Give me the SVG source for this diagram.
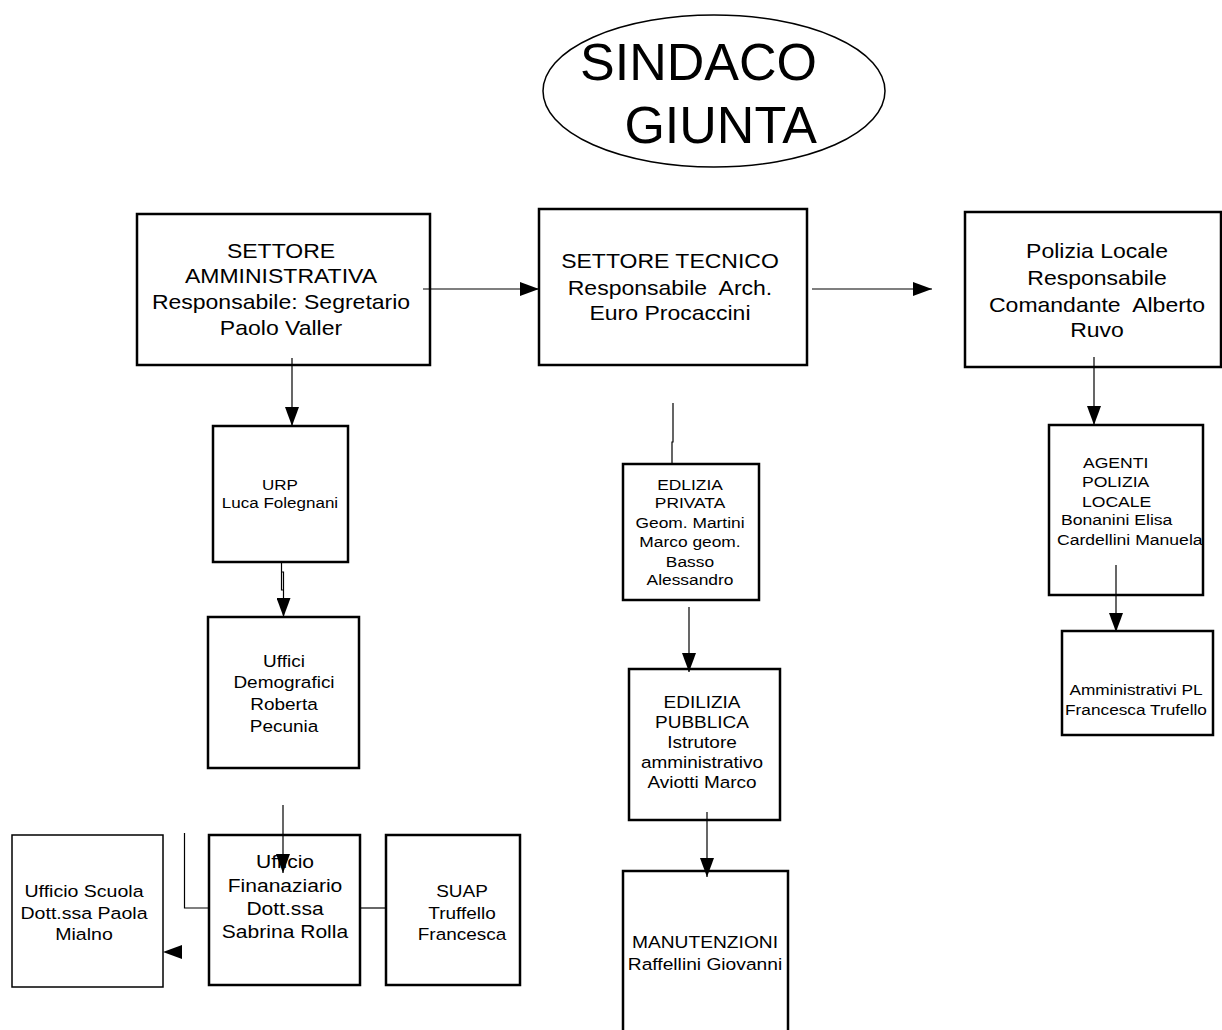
<svg xmlns="http://www.w3.org/2000/svg" width="1222" height="1030" viewBox="0 0 1222 1030">
<style>
.box{fill:#fff;stroke:#000;stroke-width:2.5}
.thin{fill:#fff;stroke:#000;stroke-width:1.5}
.t{font-family:"Liberation Sans",Arial,sans-serif;fill:#000;white-space:pre}
.c{stroke:#000;stroke-width:1.2;fill:none}
.ah{fill:#000;stroke:none}
</style>
<defs>
<marker id="arr" markerUnits="userSpaceOnUse" markerWidth="19" markerHeight="14" refX="19" refY="7" orient="auto">
<path d="M0,0 L19,7 L0,14 z" fill="#000"/>
</marker>
</defs>
<rect width="1222" height="1030" fill="#fff"/>

<g id="sindaco">
<ellipse cx="714" cy="91" rx="171" ry="76" fill="#fff" stroke="#000" stroke-width="1.5"/>
<text class="t" font-size="52" text-anchor="end"><tspan x="817" y="80">SINDACO</tspan><tspan x="817" y="143">GIUNTA</tspan></text>
</g>

<g id="settore-amministrativa">
<rect class="box" x="137" y="214" width="293" height="151"/>
<text class="t" font-size="20" text-anchor="middle" transform="translate(281,0) scale(1.15,1)"><tspan x="0" y="258">SETTORE</tspan><tspan x="0" y="283">AMMINISTRATIVA</tspan><tspan x="0" y="309">Responsabile: Segretario</tspan><tspan x="0" y="335">Paolo Valler</tspan></text>
</g>

<g id="settore-tecnico">
<rect class="box" x="539" y="209" width="268" height="156"/>
<text class="t" font-size="20" text-anchor="middle" transform="translate(670,0) scale(1.15,1)" xml:space="preserve"><tspan x="0" y="268">SETTORE TECNICO</tspan><tspan x="0" y="295">Responsabile  Arch.</tspan><tspan x="0" y="320">Euro Procaccini</tspan></text>
</g>

<g id="polizia-locale">
<rect class="box" x="965" y="212" width="256" height="155"/>
<text class="t" font-size="20" text-anchor="middle" transform="translate(1097,0) scale(1.15,1)" xml:space="preserve"><tspan x="0" y="258">Polizia Locale</tspan><tspan x="0" y="285">Responsabile</tspan><tspan x="0" y="312">Comandante  Alberto</tspan><tspan x="0" y="337">Ruvo</tspan></text>
</g>

<g id="urp">
<rect class="box" x="213" y="426" width="135" height="136"/>
<text class="t" font-size="14.8" text-anchor="middle" transform="translate(280,0) scale(1.15,1)"><tspan x="0" y="490">URP</tspan><tspan x="0" y="508">Luca Folegnani</tspan></text>
</g>

<g id="uffici-demografici">
<rect class="box" x="208" y="617" width="151" height="151"/>
<text class="t" font-size="16.5" text-anchor="middle" transform="translate(284,0) scale(1.15,1)"><tspan x="0" y="667">Uffici</tspan><tspan x="0" y="688">Demografici</tspan><tspan x="0" y="710">Roberta</tspan><tspan x="0" y="732">Pecunia</tspan></text>
</g>

<g id="ufficio-scuola">
<rect class="thin" x="12" y="835" width="151" height="152"/>
<text class="t" font-size="17" text-anchor="middle" transform="translate(84,0) scale(1.15,1)"><tspan x="0" y="897">Ufficio Scuola</tspan><tspan x="0" y="919">Dott.ssa Paola</tspan><tspan x="0" y="940">Mialno</tspan></text>
</g>

<g id="ufficio-finanziario">
<rect class="box" x="209" y="835" width="151" height="150" stroke-width="3"/>
<text class="t" font-size="18.3" text-anchor="middle" transform="translate(285,0) scale(1.15,1)"><tspan x="0" y="868">Ufficio</tspan><tspan x="0" y="892">Finanaziario</tspan><tspan x="0" y="915">Dott.ssa</tspan><tspan x="0" y="938">Sabrina Rolla</tspan></text>
</g>

<g id="suap">
<rect class="box" x="386" y="835" width="134" height="150" stroke-width="3"/>
<text class="t" font-size="16.5" text-anchor="middle" transform="translate(462,0) scale(1.15,1)"><tspan x="0" y="897">SUAP</tspan><tspan x="0" y="919">Truffello</tspan><tspan x="0" y="940">Francesca</tspan></text>
</g>

<g id="edilizia-privata">
<rect class="box" x="623" y="464" width="136" height="136" stroke-width="3"/>
<text class="t" font-size="15.1" text-anchor="middle" transform="translate(690,0) scale(1.15,1)"><tspan x="0" y="490">EDLIZIA</tspan><tspan x="0" y="508">PRIVATA</tspan><tspan x="0" y="528">Geom. Martini</tspan><tspan x="0" y="547">Marco geom.</tspan><tspan x="0" y="567">Basso</tspan><tspan x="0" y="585">Alessandro</tspan></text>
</g>

<g id="edilizia-pubblica">
<rect class="box" x="629" y="669" width="151" height="151"/>
<text class="t" font-size="16.5" text-anchor="middle" transform="translate(702,0) scale(1.15,1)"><tspan x="0" y="708">EDILIZIA</tspan><tspan x="0" y="728">PUBBLICA</tspan><tspan x="0" y="748">Istrutore</tspan><tspan x="0" y="768">amministrativo</tspan><tspan x="0" y="788">Aviotti Marco</tspan></text>
</g>

<g id="manutenzioni">
<rect class="box" x="623" y="871" width="165" height="180"/>
<text class="t" font-size="16.7" text-anchor="middle" transform="translate(705,0) scale(1.15,1)"><tspan x="0" y="948">MANUTENZIONI</tspan><tspan x="0" y="970">Raffellini Giovanni</tspan></text>
</g>

<g id="agenti-polizia-locale">
<rect class="box" x="1049" y="425" width="154" height="170"/>
<text class="t" font-size="15.3" transform="translate(1057,0) scale(1.15,1)"><tspan x="22.6" y="468">AGENTI</tspan><tspan x="21.7" y="487">POLIZIA</tspan><tspan x="21.7" y="507">LOCALE</tspan><tspan x="3.5" y="525">Bonanini Elisa</tspan><tspan x="0" y="545">Cardellini Manuela</tspan></text>
</g>

<g id="amministrativi-pl">
<rect class="box" x="1062" y="631" width="151" height="104"/>
<text class="t" font-size="15" text-anchor="middle" transform="translate(1136,0) scale(1.15,1)"><tspan x="0" y="695">Amministrativi PL</tspan><tspan x="0" y="715">Francesca Trufello</tspan></text>
</g>

<g id="connectors">
<path class="c" d="M423,289 H539" marker-end="url(#arr)"/>
<path class="c" d="M812,289 H932" marker-end="url(#arr)"/>
<path class="c" d="M292,358 V426" marker-end="url(#arr)"/>
<path class="c" d="M281.5,562 V590 H283.5 M281.5,572 H283.5 V617" marker-end="url(#arr)"/>
<path class="c" d="M283,805 V873" marker-end="url(#arr)"/>
<path class="c" d="M209,908 H184.5 V833" stroke-width="1.5"/>
<path class="c" d="M360,908 H386" stroke-width="1.5"/>
<polygon class="ah" points="163,952 182,945 182,959"/>
<path class="c" d="M673,403 V442 H672 V464"/>
<path class="c" d="M689,607 V672" marker-end="url(#arr)"/>
<path class="c" d="M707,812 V877" marker-end="url(#arr)"/>
<path class="c" d="M1094,357 V425" marker-end="url(#arr)"/>
<path class="c" d="M1116,565 V632" marker-end="url(#arr)"/>
</g>
</svg>
